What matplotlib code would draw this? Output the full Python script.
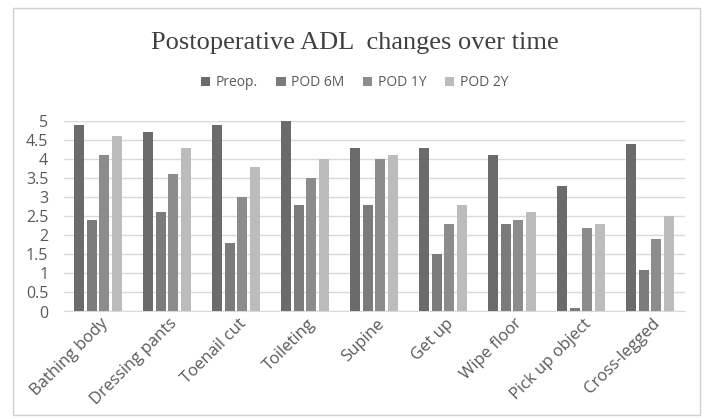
import matplotlib
matplotlib.use("Agg")
import matplotlib.pyplot as plt
import matplotlib.transforms as mtransforms
import numpy as np
from matplotlib.patches import Rectangle

categories = ["Bathing body", "Dressing pants", "Toenail cut", "Toileting", "Supine",
              "Get up", "Wipe floor", "Pick up object", "Cross-legged"]
series_names = ["Preop.", "POD 6M", "POD 1Y", "POD 2Y"]
preop = [4.9, 4.7, 4.9, 5.0, 4.3, 4.3, 4.1, 3.3, 4.4]
pod6m = [2.4, 2.6, 1.8, 2.8, 2.8, 1.5, 2.3, 0.1, 1.1]
pod1y = [4.1, 3.6, 3.0, 3.5, 4.0, 2.3, 2.4, 2.2, 1.9]
pod2y = [4.6, 4.3, 3.8, 4.0, 4.1, 2.8, 2.6, 2.3, 2.5]
yticks = [0, 0.5, 1, 1.5, 2, 2.5, 3, 3.5, 4, 4.5, 5]
ytick_labels = ["0", "0.5", "1", "1.5", "2", "2.5", "3", "3.5", "4", "4.5", "5"]

colors = ["#6b6b6b", "#7b7b7b", "#8c8c8c", "#bcbcbc"]

fig = plt.figure(figsize=(7.09, 4.19), dpi=100)
fig.patches.append(Rectangle((13/709, 1-415/419), 687/709, 407/419, transform=fig.transFigure,
                             fill=False, edgecolor="#d0d0d0", linewidth=1))
ax = fig.add_axes([63.5/709, 1-311.5/419, 621/709, 190.5/419])

x = np.arange(len(categories))
spacing = 0.182
width = 0.15
for i, (vals, name) in enumerate(zip([preop, pod6m, pod1y, pod2y], series_names)):
    ax.bar(x + (i - 1.5) * spacing, vals, width, color=colors[i], label=name, zorder=3)

ax.set_xlim(-0.5, len(categories) - 0.5)
ax.set_ylim(0, 5)
ax.set_yticks(yticks)
ax.set_yticklabels(ytick_labels)
ax.yaxis.grid(True, color="#d9d9d9", linewidth=1, zorder=0)
for s in ["top", "right", "left"]:
    ax.spines[s].set_visible(False)
ax.spines["bottom"].set_color("#d9d9d9")
ax.tick_params(axis="both", length=0, labelcolor="#595959")
ax.tick_params(axis="y", pad=11, labelsize=11.5)
ax.tick_params(axis="x", pad=3)
ax.set_xticks(x)
ax.set_xticklabels(categories, rotation=45, ha="right", rotation_mode="anchor",
                   fontsize=12, color="#595959", family="Open Sans")
offset = mtransforms.ScaledTranslation(2/100, 0, fig.dpi_scale_trans)
for lbl in ax.get_xticklabels():
    lbl.set_transform(lbl.get_transform() + offset)
for lbl in ax.get_yticklabels():
    lbl.set_family("Open Sans")

fig.text(0.5, 1-43/419, "Postoperative ADL  changes over time", ha="center", va="center",
         fontsize=19, family="Liberation Serif", color="#404040")
leg = fig.legend(loc="center", bbox_to_anchor=(0.5, 1-83/419), ncol=4, frameon=False,
                 handlelength=0.7, handleheight=0.7, columnspacing=1.3,
                 handletextpad=0.4, prop={"family": "Open Sans", "size": 10})
for t in leg.get_texts():
    t.set_color("#595959")

fig.savefig("out.png", dpi=100)
